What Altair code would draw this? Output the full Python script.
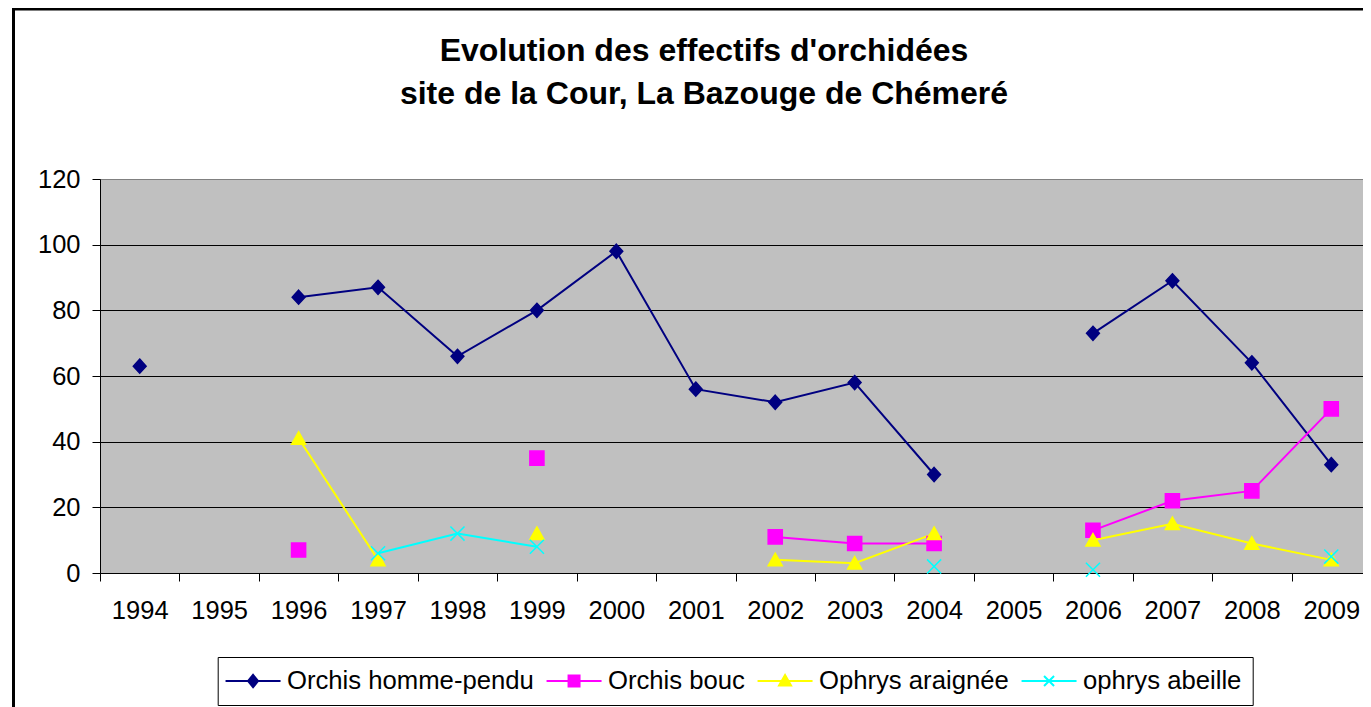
import altair as alt
import pandas as pd

# ---------------- data ----------------
years = [str(y) for y in range(1994, 2010)]
series_names = ["Orchis homme-pendu", "Orchis bouc", "Ophrys araignée", "ophrys abeille"]
homme_pendu = [63, None, 84, 87, 66, 80, 98, 56, 52, 58, 30, None, 73, 89, 64, 33]
bouc = [None, None, 7, None, None, 35, None, None, 11, 9, 9, None, 13, 22, 25, 50]
araignee = [None, None, 41, 4, None, 12, None, None, 4, 3, 12, None, 10, 15, 9, 4]
abeille = [None, None, None, 6, 12, 8, None, None, None, None, 2, None, 1, None, None, 5]
y_ticks = [0, 20, 40, 60, 80, 100, 120]
title_lines = ["Evolution des effectifs d'orchidées", "site de la Cour, La Bazouge de Chémeré"]

# ---------------- styles ----------------
colors = ["#000080", "#FF00FF", "#FFFF00", "#00FFFF"]
marker_shapes = [
    "M0,-0.9L0.82,0L0,0.9L-0.82,0Z",
    "M-0.9,-0.9H0.9V0.9H-0.9Z",
    "M0,-0.85L0.9,0.75H-0.9Z",
    "M-0.9,-0.9L0.9,0.9M-0.9,0.9L0.9,-0.9",
]
legend_shapes = [
    "M-2.75,0H2.75M0,-0.62L0.5,0L0,0.62L-0.5,0Z",
    "M-2.75,0H2.75M-0.55,-0.55H0.55V0.55H-0.55Z",
    "M-2.75,0H2.75M0,-0.6L0.6,0.45H-0.6Z",
    "M-2.75,0H2.75M-0.5,-0.5L0.5,0.5M-0.5,0.5L0.5,-0.5",
]
FONT = "Liberation Sans"

rows = []
for name, vals in zip(series_names, [homme_pendu, bouc, araignee, abeille]):
    for yr, v in zip(years, vals):
        rows.append({"year": yr, "series": name, "value": v})
df = pd.DataFrame(rows)

x_enc = alt.X(
    "year:O",
    scale=alt.Scale(type="band", domain=years, paddingInner=0, paddingOuter=0),
    bandPosition=0.5,
    axis=alt.Axis(
        title=None, labelAngle=0, tickBand="extent", tickSize=8, labelPadding=17,
        labelFontSize=25.5, labelFont=FONT, labelColor="black", labelOverlap=False,
        domainColor="black", tickColor="black", grid=False,
    ),
)
y_enc = alt.Y(
    "value:Q",
    scale=alt.Scale(domain=[0, 120], nice=False, zero=True),
    axis=alt.Axis(
        title=None, values=y_ticks, tickSize=8, labelPadding=12,
        labelFontSize=25.5, labelFont=FONT, labelColor="black",
        domainColor="black", tickColor="black", grid=True,
        gridColor={"condition": {"test": "datum.value === 120", "value": "#808080"}, "value": "#000000"},
        gridWidth=1,
    ),
)

base = alt.Chart(df)

lines = base.mark_line(strokeWidth=2, invalid="break-paths-show-domains").encode(
    x=x_enc,
    y=y_enc,
    color=alt.Color("series:N", scale=alt.Scale(domain=series_names, range=colors), legend=None),
)

points = base.transform_filter("isValid(datum.value)").mark_point(
    filled=True, strokeWidth=1.5, opacity=1, size=245
).encode(
    x=x_enc,
    y=y_enc,
    fill=alt.Fill("series:N", scale=alt.Scale(domain=series_names, range=colors), legend=None),
    stroke=alt.Stroke("series:N", scale=alt.Scale(domain=series_names, range=colors), legend=None),
    shape=alt.Shape("series:N", scale=alt.Scale(domain=series_names, range=marker_shapes), legend=None),
)

leg = alt.Legend(
    title=None, orient="none", legendX=117.7, legendY=478, direction="horizontal",
    symbolSize=400, symbolStrokeWidth=2, symbolOffset=11.5, labelFontSize=25.7, labelFont=FONT,
    labelColor="black", labelOffset=21, columnPadding=7, padding=11,
    strokeColor="black", fillColor="white", labelLimit=0,
)
legend_layer = base.transform_filter("false").mark_point(
    filled=True, strokeWidth=2, opacity=1
).encode(
    x=x_enc,
    y=y_enc,
    fill=alt.Fill("series:N", scale=alt.Scale(domain=series_names, range=colors), legend=leg),
    stroke=alt.Stroke("series:N", scale=alt.Scale(domain=series_names, range=colors), legend=leg),
    shape=alt.Shape("series:N", scale=alt.Scale(domain=series_names, range=legend_shapes), legend=leg),
)

frame_df = pd.DataFrame({"k": [0]})
border_left = alt.Chart(frame_df).mark_rule(color="black", strokeWidth=3).encode(
    x=alt.value(-86.5), y=alt.value(-171), y2=alt.value(540)
)
border_top = alt.Chart(frame_df).mark_rule(color="black", strokeWidth=2.5).encode(
    x=alt.value(-88), x2=alt.value(1300), y=alt.value(-169.8)
)

chart = alt.layer(lines, points, legend_layer, border_left, border_top).resolve_scale(
    fill="independent", stroke="independent", shape="independent"
).properties(
    width=1271,
    height=394,
    autosize=alt.AutoSizeParams(type="none"),
    padding={"left": 92, "top": 171, "right": -8, "bottom": 134},
    title=alt.Title(
        text=title_lines, font=FONT, fontSize=32, fontWeight="bold", color="black",
        anchor="middle", frame="group", dx=-31.5, offset=0, dy=104, lineHeight=43,
    ),
).configure_view(
    fill="#C0C0C0", stroke="#808080", strokeWidth=1
)

chart.save("out.html", embed_options={"renderer": "svg", "actions": False})
